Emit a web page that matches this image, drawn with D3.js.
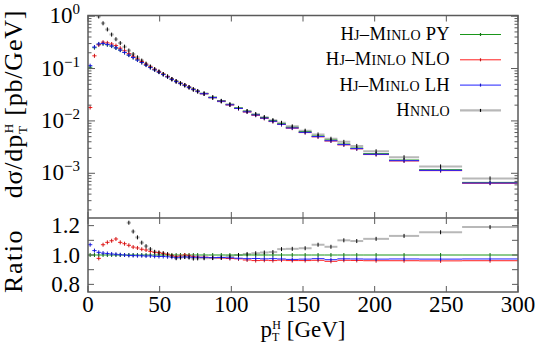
<!DOCTYPE html>
<html>
<head>
<meta charset="utf-8">
<script src="https://cdn.jsdelivr.net/npm/d3@7"></script>
<style>
  body { margin: 0; background: #fff; }
</style>
</head>
<body>
<svg id="chart" width="540" height="344"></svg>
<script>
// bin edges in GeV (3, 6, 9 GeV bins, then wide ones)
const binEdges = [0,3,6,9,12,15,18,21,24,27,30,33,36,39,42,45,48,51,54,57,60,63,66,69,72,75,78,
  84,90,96,102,108,114,120,126,132,138,147,156,165,174,183,192,210,231,261,300];

// Hj-MiNLO PY, dsigma/dpT [pb/GeV]
const pyTop = [0.106,0.25,0.29,0.298,0.285,0.268,0.247,0.225,0.203,0.181,0.163,0.146,0.131,
  0.117,0.105,0.095,0.086,0.0775,0.070,0.063,0.0577,0.0528,0.0484,0.0443,0.0406,0.0373,
  0.0336,0.0284,0.0242,0.0207,0.0177,0.0153,0.0133,0.0116,0.0101,0.00885,
  0.00755,0.00622,0.00515,0.00432,0.00362,0.00304,0.00237,0.00179,0.00117,0.00067];

// ratios to Hj-MiNLO PY
const nloRatio = [0.17,0.70,0.977,1.07,1.086,1.097,1.109,1.086,1.077,1.066,1.054,1.048,1.039,
  1.034,1.025,1.018,1.016,1.011,1.005,0.995,0.989,0.993,1.0,0.995,0.99,0.986,
  0.985,0.982,0.98,0.976,0.974,0.966,0.962,0.964,0.962,0.965,
  0.962,0.962,0.964,0.957,0.964,0.963,0.961,0.961,0.96,0.961];
const lhRatio = [1.07,1.03,1.018,1.013,1.01,1.007,1.005,1.002,1.0,0.997,0.996,0.995,0.995,
  0.993,0.994,0.991,0.99,0.99,0.988,0.985,0.982,0.985,0.987,0.986,0.984,0.985,
  0.984,0.982,0.983,0.981,0.978,0.975,0.976,0.974,0.975,0.973,
  0.97,0.972,0.975,0.968,0.974,0.973,0.972,0.973,0.972,0.973];
const nnloRatio = [null,null,3.4,2.45,1.96,1.66,1.47,1.36,1.29,1.22,1.16,1.12,1.084,
  1.06,1.04,1.022,1.016,1.011,1.005,0.993,0.978,0.982,0.986,0.983,0.976,0.977,
  0.978,0.979,0.982,0.99,1.0,1.007,1.012,1.017,1.02,1.04,
  1.042,1.046,1.07,1.056,1.10,1.095,1.11,1.13,1.155,1.19];

const xTicks = [0,50,100,150,200,250,300];
const logMajors = [1,0.1,0.01,0.001];
const logExps = ['0','\u22121','\u22122','\u22123'];
const ratioTicks = [0.8,0.9,1.0,1.1,1.2];
const ratioLabels = [0.8,1.0,1.2];

const colors = ['#1a961a','#ff1e1e','#2020ff'];

const bins = binEdges.slice(0,-1).map((lo,i) => ({lo, hi: binEdges[i+1], mid: (lo+binEdges[i+1])/2}));

// top panel values of the other curves = PY x ratio
const pyRatio = pyTop.map(v => v / v);
const nloTop = pyTop.map((v,i) => v * nloRatio[i]);
const lhTop = pyTop.map((v,i) => v * lhRatio[i]);
const nnloTop = pyTop.map((v,i) => nnloRatio[i] == null ? null : v * nnloRatio[i]);

//! LAYOUT
const L = 88, R = 518, T = 15.5, MID = 218, B = 292;
const frame = '#5a5a5a';
const FONT = 'Liberation Serif';

const svg = d3.select('#chart').attr('font-family', FONT);
const x = d3.scaleLinear().domain([0,300]).range([L,R]);
const yTop = d3.scaleLog().domain([1.4e-4,1.03]).range([MID,T]);
const yRat = d3.scaleLinear().domain([0.748,1.252]).range([B,MID]);

const defs = svg.append('defs');
defs.append('clipPath').attr('id','clipTop').append('rect')
  .attr('x',L).attr('y',T).attr('width',R-L).attr('height',MID-T);
defs.append('clipPath').attr('id','clipRat').append('rect')
  .attr('x',L).attr('y',MID).attr('width',R-L).attr('height',B-MID);

function drawBars(g, y, vals, color, width) {
  const [lo, hi] = y.domain();
  const pts = bins.map((b,i) => ({...b, v: vals[i]})).filter(d => d.v != null && d.v >= lo && d.v <= hi);
  g.append('g').selectAll('line').data(pts).join('line')
    .attr('x1', d => x(d.lo)).attr('x2', d => x(d.hi))
    .attr('y1', d => y(d.v)).attr('y2', d => y(d.v))
    .attr('stroke', color).attr('stroke-width', width);
  return pts;
}
function drawTicks(g, y, pts, color) {
  g.append('g').selectAll('line').data(pts).join('line')
    .attr('x1', d => x(d.mid)).attr('x2', d => x(d.mid))
    .attr('y1', d => y(d.v) - 2).attr('y2', d => y(d.v) + 2)
    .attr('stroke', color).attr('stroke-width', 1);
}

function panel(clip, y, sets, nnlo) {
  const g = svg.append('g').attr('clip-path', `url(#${clip})`);
  const nn = drawBars(g, y, nnlo, '#b8b8b8', 2);
  sets.forEach((vals, k) => {
    const pts = drawBars(g, y, vals, colors[k], 1);
    drawTicks(g, y, pts, d3.color(colors[k]).darker(0.8));
  });
  drawTicks(g, y, nn, '#000');
}

panel('clipTop', yTop, [pyTop, nloTop, lhTop], nnloTop);
panel('clipRat', yRat, [pyRatio, nloRatio, lhRatio], nnloRatio);

//! AXES
const ax = svg.append('g').attr('stroke', frame);
// log ticks, both sides
const minors = [];
[1e-4,1e-3,1e-2,1e-1].forEach(dec => d3.range(2,10).forEach(m => minors.push(dec*m)));
minors.filter(v => v > yTop.domain()[0] && v < yTop.domain()[1]).forEach(v => {
  ax.append('line').attr('x1',L).attr('x2',L+3.5).attr('y1',yTop(v)).attr('y2',yTop(v)).attr('stroke-width',1);
  ax.append('line').attr('x1',R).attr('x2',R-3.5).attr('y1',yTop(v)).attr('y2',yTop(v)).attr('stroke-width',1);
});
logMajors.forEach(v => {
  ax.append('line').attr('x1',L).attr('x2',L+7).attr('y1',yTop(v)).attr('y2',yTop(v)).attr('stroke-width',1);
  ax.append('line').attr('x1',R).attr('x2',R-7).attr('y1',yTop(v)).attr('y2',yTop(v)).attr('stroke-width',1);
});
ratioTicks.forEach(v => {
  ax.append('line').attr('x1',L).attr('x2',L+6).attr('y1',yRat(v)).attr('y2',yRat(v)).attr('stroke-width',1);
  ax.append('line').attr('x1',R).attr('x2',R-6).attr('y1',yRat(v)).attr('y2',yRat(v)).attr('stroke-width',1);
});
xTicks.forEach(v => {
  [[T,1],[MID,-1],[MID,1],[B,-1]].forEach(([yy,dir]) => {
    ax.append('line').attr('x1',x(v)).attr('x2',x(v)).attr('y1',yy).attr('y2',yy+6*dir).attr('stroke-width',1);
  });
});
// frames
ax.append('rect').attr('x',L).attr('y',T).attr('width',R-L).attr('height',B-T)
  .attr('fill','none').attr('stroke-width',1.5);
ax.append('line').attr('x1',L).attr('x2',R).attr('y1',MID).attr('y2',MID).attr('stroke-width',1.5);

// tick labels
svg.append('g').selectAll('text').data(xTicks).join('text')
  .attr('x', d => x(d)).attr('y', 312).attr('text-anchor','middle')
  .attr('font-size', 23).text(d => d);
svg.append('g').selectAll('text').data(ratioLabels).join('text')
  .attr('x', 80).attr('y', d => yRat(d) + 7.5).attr('text-anchor','end')
  .attr('font-size', 23).text(d => d3.format('.1f')(d));
logMajors.forEach((v,i) => {
  const t = svg.append('text').attr('x',80).attr('y',Math.max(yTop(v) + 7, 21))
    .attr('text-anchor','end').attr('font-size', 23);
  t.append('tspan').text('10');
  t.append('tspan').attr('dy',-9).attr('font-size', 15).text(logExps[i]);
});

// axis titles
const yt = svg.append('text').attr('transform','translate(22,104) rotate(-90)')
  .attr('text-anchor','middle').attr('font-size', 26).attr('letter-spacing', 0.8);
yt.append('tspan').text('d\u03c3/dp');
yt.append('tspan').attr('dy',5).attr('font-size', 13).text('T');
yt.append('tspan').attr('dx',-8).attr('dy',-14).attr('font-size', 13).text('H');
yt.append('tspan').attr('dy',9).text(' [pb/GeV]');

svg.append('text').attr('transform','translate(22,261) rotate(-90)')
  .attr('text-anchor','middle').attr('font-size', 26).attr('letter-spacing', 1.5).text('Ratio');

const xt = svg.append('text').attr('x',303).attr('y',337).attr('text-anchor','middle').attr('font-size', 23);
xt.append('tspan').text('p');
xt.append('tspan').attr('dy',4).attr('font-size', 12).text('T');
xt.append('tspan').attr('dx',-7).attr('dy',-12).attr('font-size', 12).text('H');
xt.append('tspan').attr('dy',8).text(' [GeV]');

//! LEGEND
const legRows = [
  {parts: [['H',18.5],['J',14],['\u2013',18.5],['M',18.5],['INLO',14],[' PY',18.5]], color: colors[0], mark: d3.color(colors[0]).darker(0.8), w: 1},
  {parts: [['H',18.5],['J',14],['\u2013',18.5],['M',18.5],['INLO',14],[' NLO',18.5]], color: colors[1], mark: d3.color(colors[1]).darker(0.8), w: 1},
  {parts: [['H',18.5],['J',14],['\u2013',18.5],['M',18.5],['INLO',14],[' LH',18.5]], color: colors[2], mark: d3.color(colors[2]).darker(0.8), w: 1},
  {parts: [['H',18.5],['NNLO',14]], color: '#b8b8b8', mark: '#000', w: 2.2}
];
legRows.forEach((r,i) => {
  const yy = 40 + i*25.3;
  const t = svg.append('text').attr('x',450).attr('y',yy).attr('text-anchor','end').attr('letter-spacing', 0.3);
  r.parts.forEach(([s,fs]) => t.append('tspan').attr('font-size', fs).text(s));
  svg.append('line').attr('x1',460).attr('x2',501).attr('y1',yy-5.5).attr('y2',yy-5.5)
    .attr('stroke',r.color).attr('stroke-width',r.w);
  svg.append('line').attr('x1',480.5).attr('x2',480.5).attr('y1',yy-7).attr('y2',yy-4)
    .attr('stroke',r.mark).attr('stroke-width',1.2);
});
</script>
</body>
</html>
